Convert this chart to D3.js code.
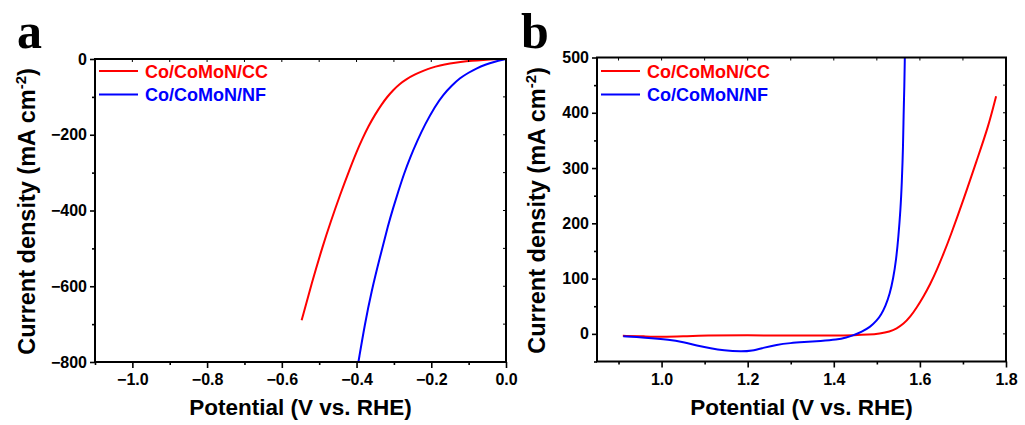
<!DOCTYPE html>
<html>
<head>
<meta charset="utf-8">
<script src="https://cdn.jsdelivr.net/npm/d3@7"></script>
<style>
  html, body { margin: 0; padding: 0; background: #fff; }
  svg { display: block; }
  text { font-family: "Liberation Sans", Arial, sans-serif; font-weight: bold; fill: #000; }
  .panel-letter { font-family: "Liberation Serif", "Times New Roman", serif; font-weight: bold; }
</style>
</head>
<body>
<svg id="chart" width="1025" height="425"></svg>
<script>
// Series labels and colours
const seriesNames = ["Co/CoMoN/CC", "Co/CoMoN/NF"];
const seriesColors = ["#ff0000", "#0000ff"];

// (a) HER polarisation curves: [potential V vs. RHE, current density mA cm^-2]
const herCC = [
  [0, 0], [-0.03, -0.8], [-0.061, -2.6], [-0.09, -4.5], [-0.123, -8], [-0.15, -12],
  [-0.177, -17], [-0.2, -23], [-0.221, -31], [-0.245, -41], [-0.266, -53],
  [-0.285, -66], [-0.302, -82], [-0.318, -100], [-0.333, -120], [-0.35, -146],
  [-0.368, -177], [-0.385, -212], [-0.4, -245], [-0.418, -290], [-0.444, -358],
  [-0.47, -432], [-0.49, -492], [-0.52, -592], [-0.547, -690]
];
const herNF = [
  [0, 0], [-0.034, -8], [-0.055, -15], [-0.078, -24], [-0.1, -36], [-0.123, -50],
  [-0.145, -70], [-0.168, -94], [-0.19, -125], [-0.217, -173], [-0.237, -215],
  [-0.257, -261], [-0.273, -303], [-0.288, -349], [-0.302, -393], [-0.315, -437],
  [-0.337, -522], [-0.36, -613], [-0.378, -701], [-0.395, -800]
];

// (b) OER polarisation curves
const oerCC = [
  [0.91, -3.5], [0.96, -4.5], [1.0, -5.5], [1.05, -4.5], [1.1, -3], [1.2, -2.5],
  [1.3, -3], [1.4, -3], [1.45, -2.5], [1.48, -1.5], [1.507, 0.5], [1.53, 4],
  [1.546, 9.5], [1.562, 18], [1.577, 30], [1.593, 48], [1.608, 67], [1.624, 90],
  [1.639, 115], [1.655, 145], [1.67, 175], [1.701, 242], [1.732, 314],
  [1.759, 375], [1.777, 430]
];
const oerNF = [
  [0.911, -4.5], [0.96, -6.5], [1.02, -10.5], [1.05, -15], [1.082, -21],
  [1.115, -26.5], [1.143, -30], [1.186, -32], [1.21, -30.5], [1.235, -25.5],
  [1.267, -19.5], [1.3, -16.5], [1.329, -15], [1.37, -13], [1.407, -10.5],
  [1.43, -6.5], [1.445, -2.7], [1.465, 4], [1.484, 12], [1.5, 24], [1.51, 35],
  [1.52, 50], [1.53, 72], [1.538, 100], [1.545, 135], [1.55, 175], [1.555, 225],
  [1.558, 272], [1.561, 340], [1.562, 393], [1.564, 450], [1.565, 500]
];

// Axis ticks
const herXTicks = [-1.0, -0.8, -0.6, -0.4, -0.2, 0.0];
const herXMinor = [-1.1, -0.9, -0.7, -0.5, -0.3, -0.1];
const herYTicks = [-800, -600, -400, -200, 0];
const herYMinor = [-700, -500, -300, -100];
const oerXTicks = [1.0, 1.2, 1.4, 1.6, 1.8];
const oerXMinor = [0.9, 1.1, 1.3, 1.5, 1.7];
const oerYTicks = [0, 100, 200, 300, 400, 500];
const oerYMinor = [-50, 50, 150, 250, 350, 450];

const svg = d3.select("#chart");

function drawPanel(p) {
  const x = d3.scaleLinear().domain(p.xDomain).range([p.left, p.right]);
  const y = d3.scaleLinear().domain(p.yDomain).range([p.bottom, p.top]);
  const g = svg.append("g");

  const clipId = "clip-" + p.id;
  svg.append("defs").append("clipPath").attr("id", clipId)
    .append("rect")
    .attr("x", p.left).attr("y", p.top)
    .attr("width", p.right - p.left).attr("height", p.bottom - p.top);

  // smooth B-spline curves through the sampled points
  const line = d3.line()
    .x(d => x(d[0])).y(d => y(d[1]))
    .curve(d3.curveBasis);
  p.series.forEach((s, i) => {
    const pts = s.slice().sort((a, b) => a[0] - b[0]);
    g.append("path")
      .attr("clip-path", `url(#${clipId})`)
      .attr("d", line(pts))
      .attr("fill", "none")
      .attr("stroke", seriesColors[i])
      .attr("stroke-width", 2)
      .attr("stroke-linejoin", "round");
  });

  // bottom axis: major + minor ticks
  const xFmt = d3.format(".1f");
  const bx = g.append("g").attr("transform", `translate(0,${p.bottom})`);
  bx.call(d3.axisBottom(x).tickValues(p.xTicks).tickSize(6).tickPadding(6).tickFormat(xFmt));
  bx.append("g").call(d3.axisBottom(x).tickValues(p.xMinor).tickSize(3).tickFormat(""));
  // left axis
  const yFmt = d3.format("d");
  const ly = g.append("g").attr("transform", `translate(${p.left},0)`);
  ly.call(d3.axisLeft(y).tickValues(p.yTicks).tickSize(5).tickPadding(3).tickFormat(yFmt));
  ly.append("g").call(d3.axisLeft(y).tickValues(p.yMinor).tickSize(3).tickFormat(""));

  g.selectAll(".domain").remove();
  g.selectAll(".tick line").attr("stroke", "#000").attr("stroke-width", 1.6);
  g.selectAll(".tick text").attr("font-size", 16).attr("fill", "#000")
    .style("font-family", '"Liberation Sans", Arial, sans-serif').style("font-weight", "bold");

  // mirrored inward ticks on top and right edges
  const topTicks = p.xTicks.concat(p.xMinor).filter(v => x(v) > p.left + 1 && x(v) < p.right - 1);
  g.selectAll(null).data(topTicks).enter().append("line")
    .attr("x1", d => x(d)).attr("x2", d => x(d))
    .attr("y1", p.top).attr("y2", p.top + 3)
    .attr("stroke", "#000").attr("stroke-width", 1);
  const rightTicks = p.yTicks.concat(p.yMinor).filter(v => y(v) > p.top + 1 && y(v) < p.bottom - 1);
  g.selectAll(null).data(rightTicks).enter().append("line")
    .attr("y1", d => y(d)).attr("y2", d => y(d))
    .attr("x1", p.right).attr("x2", p.right - 3)
    .attr("stroke", "#000").attr("stroke-width", 1);

  // frame
  g.append("rect")
    .attr("x", p.left).attr("y", p.top)
    .attr("width", p.right - p.left).attr("height", p.bottom - p.top)
    .attr("fill", "none").attr("stroke", "#000").attr("stroke-width", 2);

  // axis titles
  g.append("text")
    .attr("x", (p.left + p.right) / 2).attr("y", 415)
    .attr("text-anchor", "middle").attr("font-size", 22.5)
    .text("Potential (V vs. RHE)");
  const yt = g.append("text")
    .attr("transform", `translate(${p.yTitleX},${(p.top + p.bottom) / 2 + 1}) rotate(-90)`)
    .attr("text-anchor", "middle").attr("font-size", 23.5);
  yt.append("tspan").text("Current density (mA cm");
  yt.append("tspan").attr("font-size", 15).attr("dy", -9).text("-2");
  yt.append("tspan").attr("dy", 9).text(")");

  // legend
  seriesNames.forEach((name, i) => {
    const ly0 = p.legendY + i * 23.5;
    g.append("line")
      .attr("x1", p.left + 4).attr("x2", p.left + 43)
      .attr("y1", ly0).attr("y2", ly0)
      .attr("stroke", seriesColors[i]).attr("stroke-width", 2);
    g.append("text")
      .attr("x", p.left + 50).attr("y", ly0 + 6.5)
      .attr("font-size", 18)
      .style("fill", seriesColors[i])
      .text(name);
  });

  // panel letter
  g.append("text").attr("class", "panel-letter")
    .attr("x", p.letterX).attr("y", 48)
    .attr("font-size", 50)
    .text(p.letter);
}

drawPanel({
  id: "a", letter: "a", letterX: 17,
  left: 95, right: 506, top: 59, bottom: 362,
  xDomain: [-1.1, 0], yDomain: [-800, 0],
  xTicks: herXTicks, xMinor: herXMinor, yTicks: herYTicks, yMinor: herYMinor,
  series: [herCC, herNF], yTitleX: 35, legendY: 71
});

drawPanel({
  id: "b", letter: "b", letterX: 521,
  left: 597, right: 1006, top: 57.5, bottom: 361.5,
  xDomain: [0.85, 1.8], yDomain: [-50, 500],
  xTicks: oerXTicks, xMinor: oerXMinor, yTicks: oerYTicks, yMinor: oerYMinor,
  series: [oerCC, oerNF], yTitleX: 545, legendY: 71
});
</script>
</body>
</html>
